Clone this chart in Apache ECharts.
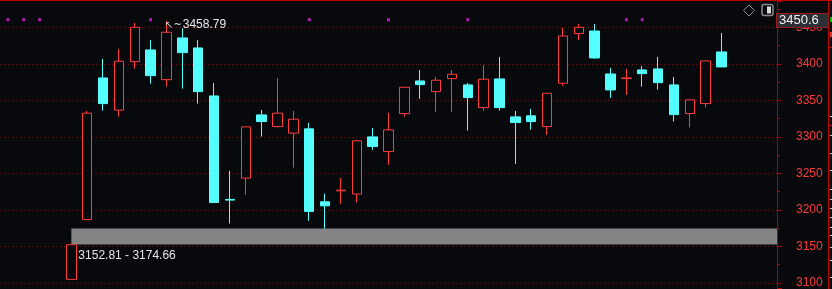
<!DOCTYPE html>
<html><head><meta charset="utf-8">
<script src="https://cdn.jsdelivr.net/npm/echarts@6/dist/echarts.min.js"></script>
<style>html,body{margin:0;padding:0;background:#08090c;overflow:hidden}#c{width:832px;height:289px}</style>
</head><body><div id="c"></div>
<script>
const categories = Array.from({length: 49}, (_, i) => 'K' + (i + 1));
const openValues = [null,null,null,null,
  3105,3187,3380.8,3336.7,3403.1,3419.2,3378.5,3435.6,3421.9,3356.2,3214.5,3243.6,3330.2,3314.2,3305.2,3311.1,3211.2,3226.2,3221.8,3300.1,3280,3332,3376.7,3362.1,3379.9,3371.3,3340.2,3379.5,3327.5,3328.9,3314.2,3373.6,3441.5,3445.1,3386.3,3379.9,3391.8,3393.2,3371.3,3332,3345.7,3416.4,
  null,null,null];
const closeValues = [null,null,null,null,
  3152.5,3332.6,3345.7,3403.7,3450.2,3384,3443.4,3415.5,3362.1,3210.3,3213.5,3313.8,3321.1,3332.6,3324.3,3198,3205.7,3227.2,3294.7,3286.9,3309.7,3368.1,3371.7,3377.7,3385.9,3353.9,3379.1,3340.2,3319.7,3321.1,3359.9,3438.3,3450.2,3408.2,3364.4,3380.9,3386.7,3374.4,3330.6,3350.8,3404.1,3395.9,
  null,null,null];
const lowValues = [null,null,null,null,
  3105,3187,3336.1,3327.9,3393.6,3373,3369,3366.2,3345.7,3210.3,3181.5,3220.8,3300.6,3312.9,3258.1,3185.2,3174.3,3208.5,3210.3,3282.4,3261.8,3327.9,3352.1,3334.3,3334.3,3308.8,3336.1,3336.1,3263.2,3310.1,3302.9,3369.9,3432.8,3406.8,3353.5,3357.6,3369,3364.8,3321.1,3312.9,3340.2,3395.9,
  null,null,null];
const highValues = [null,null,null,null,
  3152.5,3335.7,3406.8,3420.5,3456.1,3432.8,3458.79,3448.8,3432.8,3374,3253.6,3314,3337.1,3380.8,3335.7,3319.3,3222.2,3244,3296,3312.4,3333,3368.5,3391.8,3382.2,3391.8,3374,3398.6,3409.6,3335.7,3338.4,3360,3449.2,3454.7,3454.7,3394.5,3393.2,3397.3,3409.6,3382.2,3351,3404.5,3442.4,
  null,null,null];
const signalIndex = [0,1,2,9,19,24,29,39,40];
const signalLevel = 3460.6;
const zoneLow = 3152.81;
const zoneHigh = 3174.66;
const zoneStartIndex = 4;
const lastPrice = 3450.6;
const yMin = 3092.2;
const yMax = 3486.2;

const candleData = categories.map((_, i) => openValues[i] == null ? ['-', '-', '-', '-'] :
  [openValues[i], closeValues[i], lowValues[i], highValues[i]]);
let maxIdx = 0;
highValues.forEach((v, i) => { if (v != null && (highValues[maxIdx] == null || v > highValues[maxIdx])) maxIdx = i; });
const signalData = signalIndex.map(i => [categories[i], signalLevel]);

const BG = '#08090c';
const UP = '#ff3c3c';
const DOWN = '#54ffff';
const FONT = '"Liberation Sans", Arial, sans-serif';

const chart = echarts.init(document.getElementById('c'), null, {renderer: 'canvas'});
const staticGraphics = [
  {type: 'rect', shape: {x: 0, y: 0, width: 832, height: 1}, style: {fill: '#c00000'}, silent: true},
  {type: 'rect', shape: {x: 828, y: 0, width: 1, height: 289}, style: {fill: '#c00000'}, silent: true},
  {type: 'rect', shape: {x: 829, y: 47, width: 3, height: 1}, style: {fill: '#c00000'}, silent: true},
  {type: 'rect', shape: {x: 829, y: 125, width: 3, height: 1}, style: {fill: '#c00000'}, silent: true},
  {type: 'rect', shape: {x: 830, y: 17, width: 2, height: 5}, style: {fill: '#10c010'}, silent: true},
  {type: 'rect', shape: {x: 830, y: 32, width: 2, height: 5}, style: {fill: '#e03030'}, silent: true},
  {type: 'group', silent: true, children: [116,135,153,170,189,199,208,217,227,235,247,260,277].map(y => (
    {type: 'rect', shape: {x: 830, y: y, width: 2, height: 1}, style: {fill: '#d0d0d0'}}))},
  {type: 'polygon', shape: {points: [[749, 5], [754.5, 10.5], [749, 16], [743.5, 10.5]]},
    style: {fill: 'none', stroke: '#8c8c8c', lineWidth: 1}, silent: true},
  {type: 'rect', shape: {x: 762, y: 4.5, width: 11, height: 11, r: 2},
    style: {fill: 'none', stroke: '#8c8c8c', lineWidth: 1.5}, silent: true},
  {type: 'rect', shape: {x: 767, y: 6.5, width: 4, height: 7}, style: {fill: '#d8d8d8'}, silent: true}
];
chart.setOption({
  backgroundColor: BG,
  animation: false,
  grid: {left: -2, right: 55, top: 1, bottom: 0, containLabel: false},
  xAxis: {
    type: 'category', data: categories, boundaryGap: true,
    axisLine: {show: false}, axisTick: {show: false}, axisLabel: {show: false}, splitLine: {show: false}
  },
  yAxis: {
    type: 'value', position: 'right', min: yMin, max: yMax, splitNumber: 8, scale: true,
    axisLine: {show: true, lineStyle: {color: '#b00000', width: 1}},
    axisTick: {show: true, inside: false, length: 5, lineStyle: {color: '#b00000'}},
    minorTick: {show: true, splitNumber: 2, length: 3, lineStyle: {color: '#b00000'}},
    axisLabel: {show: true, color: '#ff3a3a', fontSize: 12, fontFamily: FONT, margin: 19,
      showMinLabel: false, showMaxLabel: false,
      formatter: v => (Math.abs(v % 50) < 1e-6 ? String(v) : '')},
    splitLine: {show: true, showMinLine: false, showMaxLine: false,
      lineStyle: {color: '#7a1212', width: 1, type: [1, 3]}},
    minorSplitLine: {show: false}
  },
  series: [
    {
      type: 'candlestick', data: candleData, barWidth: 10,
      itemStyle: {color: BG, color0: DOWN, borderColor: UP, borderColor0: DOWN, borderWidth: 1},
      emphasis: {disabled: true},
      markArea: {
        silent: true,
        itemStyle: {color: '#848484', opacity: 1},
        label: {show: true, position: [7, 21], color: '#e6e6e6', fontSize: 12, fontFamily: FONT,
          formatter: zoneLow.toFixed(2) + ' - ' + zoneHigh.toFixed(2)},
        data: [[{xAxis: categories[zoneStartIndex], yAxis: zoneLow}, {yAxis: zoneHigh}]]
      },
      markPoint: {
        silent: true, symbol: 'circle', symbolSize: 1, itemStyle: {color: 'rgba(0,0,0,0)'},
        label: {show: true, position: 'right', distance: -2, offset: [0, 4],
          formatter: '{a|\u2196~}{b|' + highValues[maxIdx].toFixed(2) + '}',
          rich: {a: {fontSize: 10, color: '#dcdcdc', fontFamily: '"DejaVu Sans", sans-serif'},
                 b: {fontSize: 12, color: '#e8e8e8', fontFamily: FONT, padding: [0, 0, 0, 1]}}},
        data: [{coord: [categories[maxIdx], highValues[maxIdx]], value: highValues[maxIdx]}]
      }
    },
    {
      type: 'scatter', data: signalData, symbol: 'rect', symbolSize: 3,
      itemStyle: {color: '#e61ee6'}, silent: true, z: 3
    }
  ],
  graphic: staticGraphics
});

// current-price tag placed on the y axis through the library's own scale
const yPrice = chart.convertToPixel({yAxisIndex: 0}, lastPrice);
const gridRight = 832 - 55;
chart.setOption({
  graphic: staticGraphics.concat([{
    type: 'text', silent: true, z: 100,
    x: gridRight, y: yPrice,
    style: {
      text: String(lastPrice), fill: '#f2f2f2', font: '13px ' + FONT,
      align: 'left', verticalAlign: 'bottom', lineHeight: 13,
      backgroundColor: '#2b2f36', borderColor: '#9a1a1a', borderWidth: 1,
      padding: [0, 9, 0, 2]
    }
  }])
});
</script>
</body></html>
